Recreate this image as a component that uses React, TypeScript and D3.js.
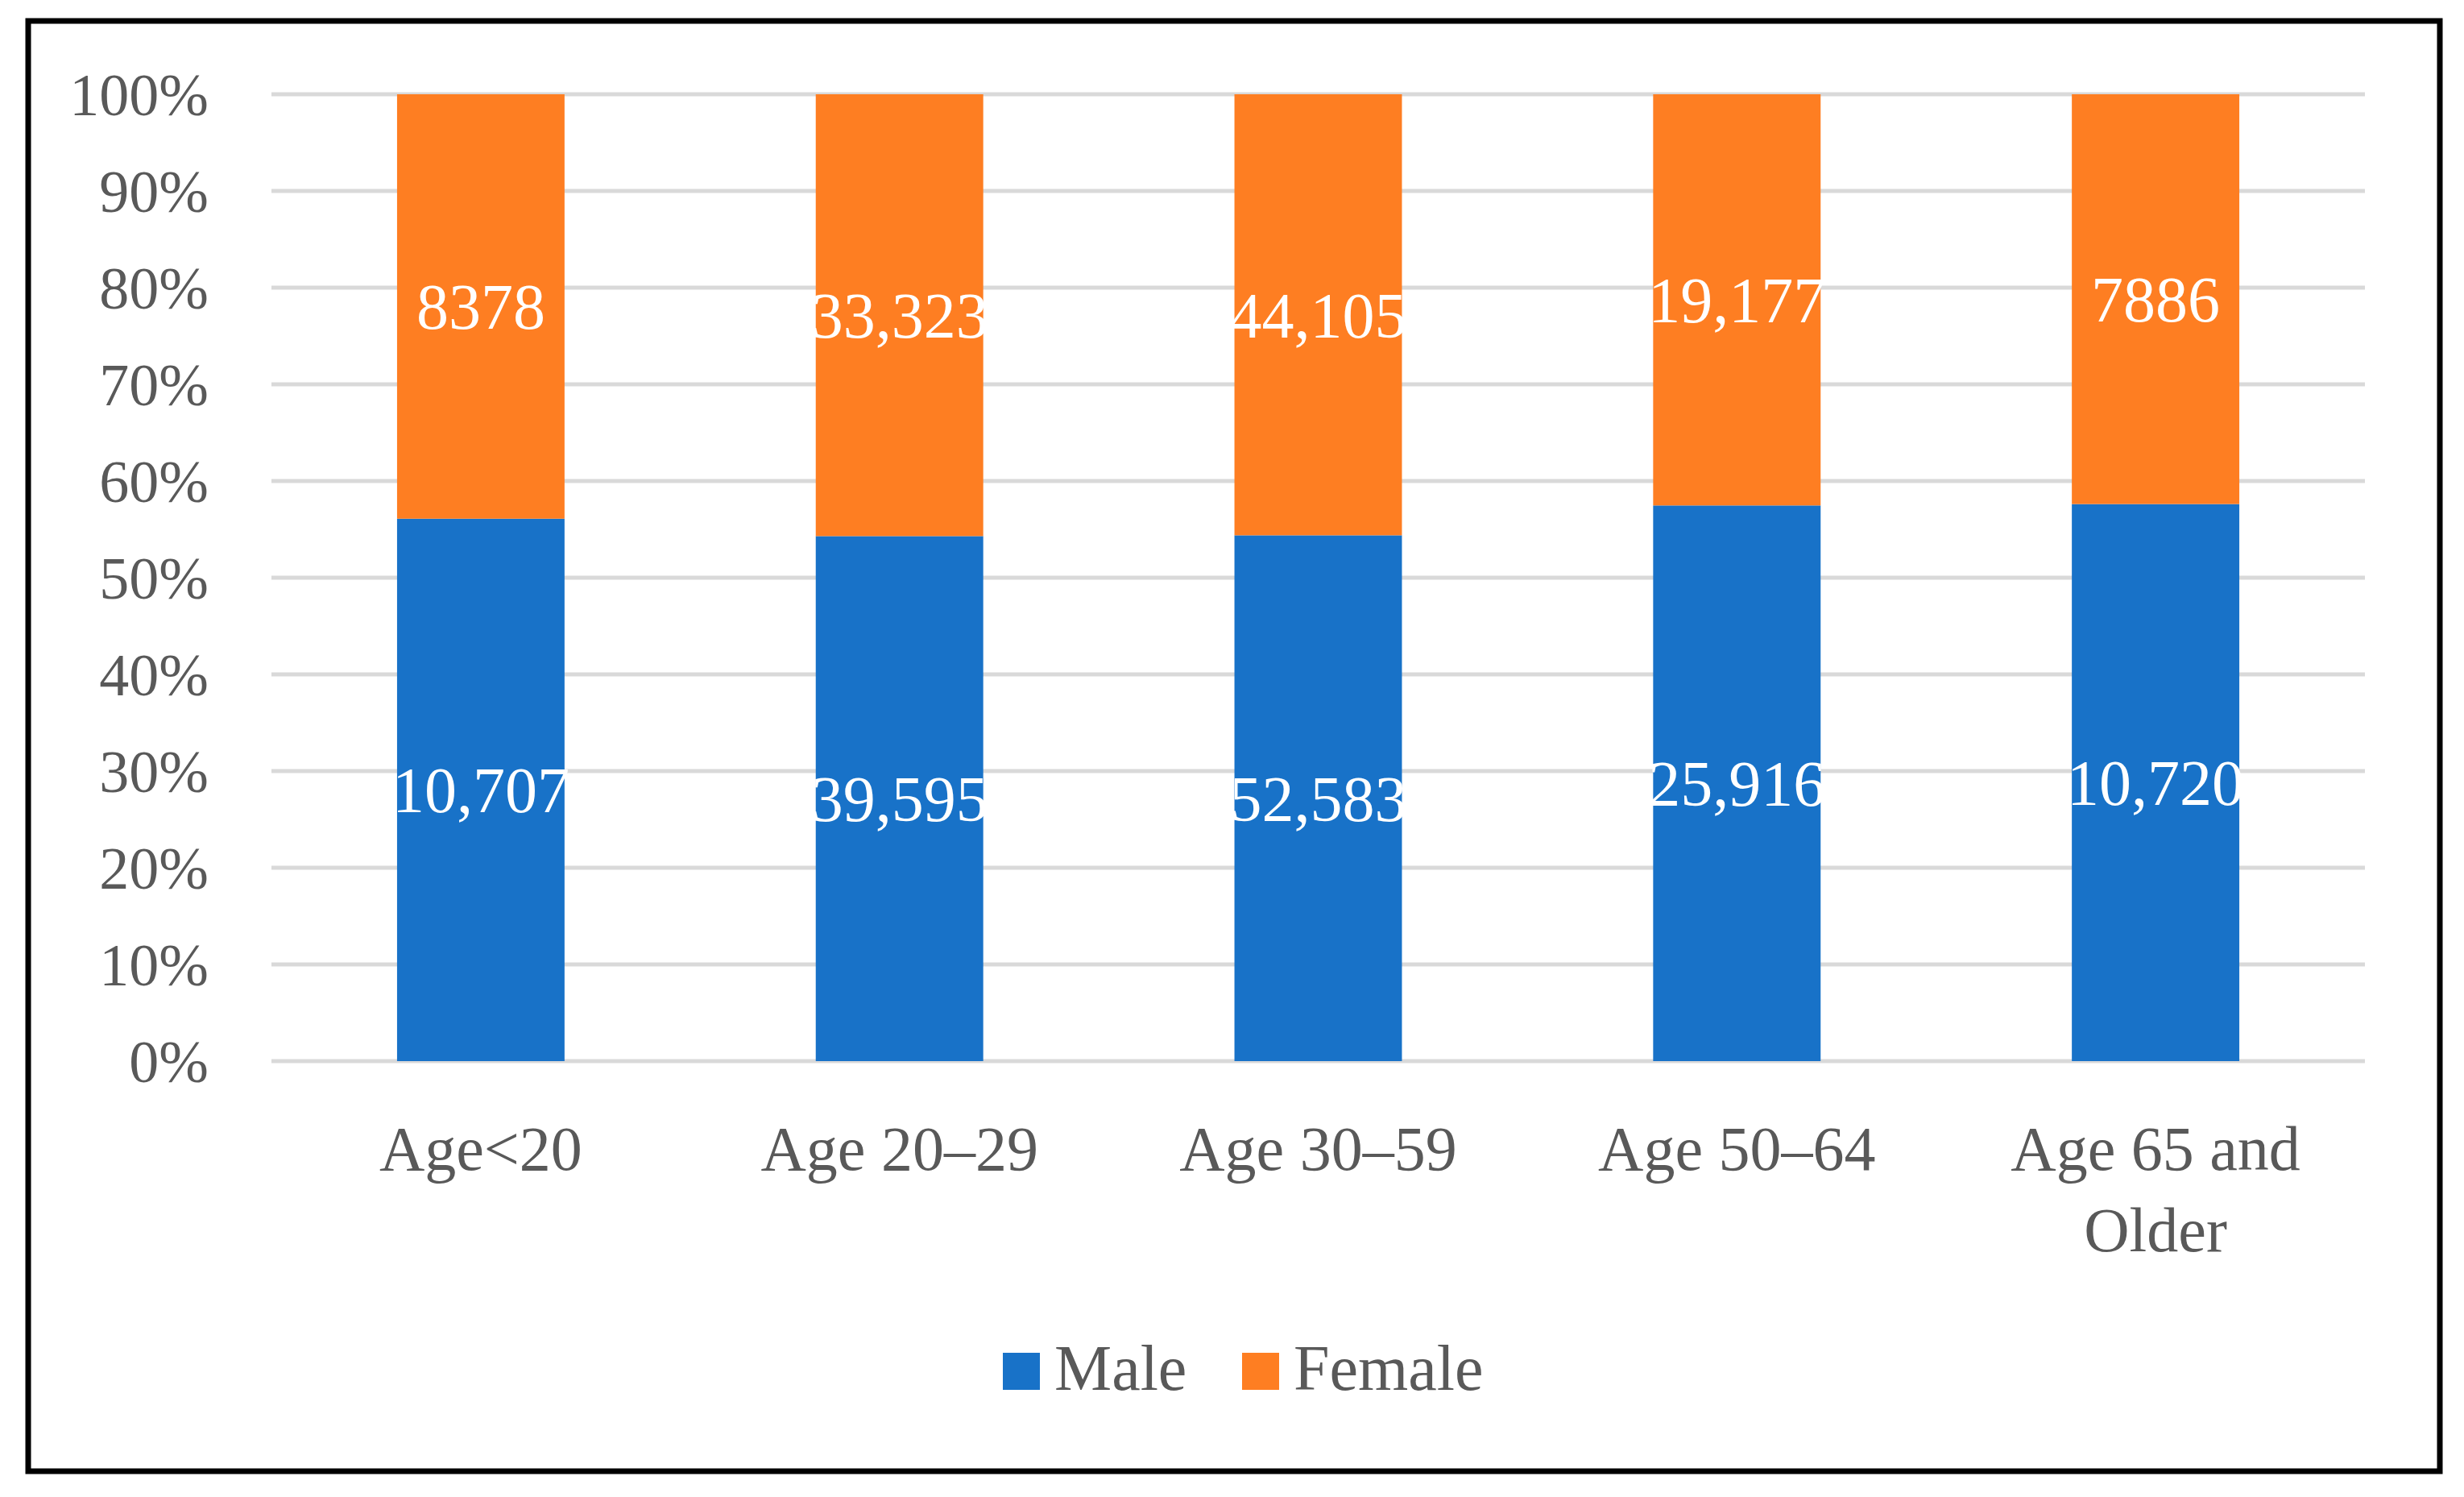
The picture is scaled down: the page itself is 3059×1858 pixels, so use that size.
import { useEffect, useRef } from "react";
import * as d3 from "d3";

const categories = ["Age<20", "Age 20–29", "Age 30–59", "Age 50–64", "Age 65 and Older"];
const maleValues = [10707, 39595, 52583, 25916, 10720];
const femaleValues = [8378, 33323, 44105, 19177, 7886];
const yTicks = [0, 0.1, 0.2, 0.3, 0.4, 0.5, 0.6, 0.7, 0.8, 0.9, 1];
const seriesNames = ["Male", "Female"];

const width = 3059;
const height = 1858;
const margin = { top: 117, right: 123, bottom: 541, left: 337 };
const colors = ["#1872c8", "#fe7e22"];
const font = "'Liberation Serif', 'DejaVu Serif', serif";
const textColor = "#595959";

// Excel style: no separator under 10,000
const fmtValue = (v: number) => (v >= 10000 ? d3.format(",")(v) : String(v));

const wrapLabel = (s: string) => {
  const words = s.split(" ");
  const lines: string[] = [];
  let cur = "";
  words.forEach((w) => {
    const next = cur ? cur + " " + w : w;
    if (next.length > 10 && cur) {
      lines.push(cur);
      cur = w;
    } else cur = next;
  });
  lines.push(cur);
  return lines;
};

const StackedChart = () => {
  const svgRef = useRef<SVGSVGElement>(null);

  useEffect(() => {
    if (!svgRef.current) return;
    document.body.style.margin = "0";

    const svg = d3.select(svgRef.current).attr("width", width).attr("height", height);
    svg.selectAll("*").remove();

    svg.append("rect").attr("width", width).attr("height", height).attr("fill", "#fff");

    // outer frame
    svg
      .append("rect")
      .attr("x", 35)
      .attr("y", 26)
      .attr("width", 2994)
      .attr("height", 1800)
      .attr("fill", "none")
      .attr("stroke", "#000")
      .attr("stroke-width", 7);

    const innerWidth = width - margin.left - margin.right;
    const innerHeight = height - margin.top - margin.bottom;

    const rows = categories.map((c, i) => {
      const total = maleValues[i] + femaleValues[i];
      return { cat: c, male: maleValues[i], female: femaleValues[i], mp: maleValues[i] / total };
    });

    const x = d3.scaleBand().domain(categories).range([0, innerWidth]).paddingInner(0.6).paddingOuter(0.3);
    const y = d3.scaleLinear().domain([0, 1]).range([innerHeight, 0]);

    const g = svg.append("g").attr("transform", `translate(${margin.left},${margin.top})`);

    // gridlines
    g.selectAll(".grid")
      .data(yTicks)
      .join("line")
      .attr("x1", 0)
      .attr("x2", innerWidth)
      .attr("y1", (d) => y(d))
      .attr("y2", (d) => y(d))
      .attr("stroke", "#d9d9d9")
      .attr("stroke-width", 5);

    // y tick labels
    g.selectAll(".ytick")
      .data(yTicks)
      .join("text")
      .attr("x", -78)
      .attr("y", (d) => y(d))
      .attr("dy", "0.35em")
      .attr("text-anchor", "end")
      .attr("font-family", font)
      .attr("font-size", 74)
      .attr("fill", textColor)
      .text((d) => d3.format(".0%")(d));

    // male bars
    g.selectAll(".male")
      .data(rows)
      .join("rect")
      .attr("x", (d) => x(d.cat) || 0)
      .attr("width", x.bandwidth())
      .attr("y", (d) => y(d.mp))
      .attr("height", (d) => y(0) - y(d.mp))
      .attr("fill", colors[0]);

    // female bars
    g.selectAll(".female")
      .data(rows)
      .join("rect")
      .attr("x", (d) => x(d.cat) || 0)
      .attr("width", x.bandwidth())
      .attr("y", y(1))
      .attr("height", (d) => y(d.mp) - y(1))
      .attr("fill", colors[1]);

    // value labels
    const labels = rows.flatMap((d) => [
      { cat: d.cat, v: d.male, yc: (y(0) + y(d.mp)) / 2 },
      { cat: d.cat, v: d.female, yc: (y(d.mp) + y(1)) / 2 },
    ]);
    g.selectAll(".value-label")
      .data(labels)
      .join("text")
      .attr("x", (d) => (x(d.cat) || 0) + x.bandwidth() / 2)
      .attr("y", (d) => d.yc)
      .attr("dy", "0.35em")
      .attr("text-anchor", "middle")
      .attr("font-family", font)
      .attr("font-size", 80)
      .attr("fill", "#fff")
      .text((d) => fmtValue(d.v));

    // x labels
    const xl = g
      .selectAll(".xlabel")
      .data(categories)
      .join("text")
      .attr("x", (d) => (x(d) || 0) + x.bandwidth() / 2)
      .attr("y", innerHeight + 135)
      .attr("text-anchor", "middle")
      .attr("font-family", font)
      .attr("font-size", 78)
      .attr("fill", textColor);
    xl.selectAll("tspan")
      .data((d) => wrapLabel(d))
      .join("tspan")
      .attr("x", function () {
        return (this.parentNode as SVGTextElement).getAttribute("x");
      })
      .attr("dy", (_, i) => (i === 0 ? 0 : 101))
      .text((d) => d);

    // legend
    const legend = svg.append("g").attr("transform", `translate(0, 1725)`);
    const sq = 46;
    const items = legend
      .selectAll("g")
      .data(seriesNames)
      .join("g")
      .attr("transform", (_, i) => `translate(${i === 0 ? 1245 : 1542}, 0)`);
    items
      .append("rect")
      .attr("x", 0)
      .attr("y", -sq)
      .attr("width", sq)
      .attr("height", sq)
      .attr("fill", (_, i) => colors[i]);
    items
      .append("text")
      .attr("x", sq + 18)
      .attr("y", 0)
      .attr("font-family", font)
      .attr("font-size", 80)
      .attr("fill", textColor)
      .text((d) => d);
  }, []);

  return <svg ref={svgRef} style={{ display: "block" }} />;
};

export default function App() {
  return <StackedChart />;
}
